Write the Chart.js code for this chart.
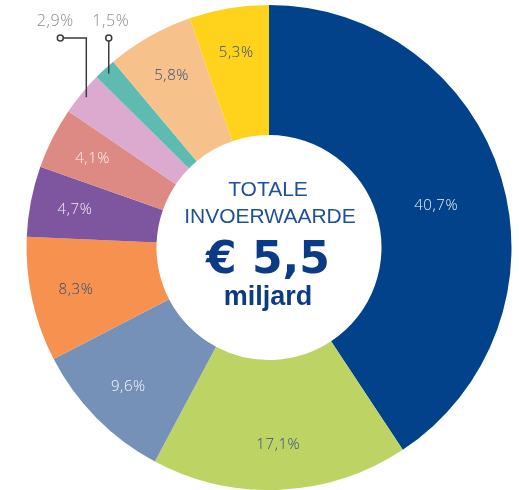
<!DOCTYPE html>
<html>
<head>
<meta charset="utf-8">
<script src="https://cdn.jsdelivr.net/npm/chart.js@4/dist/chart.umd.min.js"></script>
<style>
  html, body { margin: 0; padding: 0; background: #fff; }
  #wrap { width: 519px; height: 490px; }
</style>
</head>
<body>
<div id="wrap"><canvas id="importChart" width="519" height="490"></canvas></div>
<script>
// Import value share per category, in percent
const categories = ['A', 'B', 'C', 'D', 'E', 'F', 'G', 'H', 'I', 'J'];
const shares = [40.7, 17.1, 9.6, 8.3, 4.7, 4.1, 2.9, 1.5, 5.8, 5.3];
const sliceColors = [
    '#01428A', '#BDD464', '#7591B7', '#F7914F', '#7E569F',
    '#DE8A84', '#DDAACF', '#5DBBB1', '#F6C18B', '#FFD21C'
];
// white text on the darker slices, navy on the light ones
const labelColors = [
    '#EEF1F7', '#2F4E7E', '#F4F6FA', '#2F4E7E', '#F1EDF6',
    '#FBF1F0', '#8A8A8A', '#8A8A8A', '#2F4E7E', '#2F4E7E'
];
// slices too thin for an inside label get a callout instead
const calloutSlices = [6, 7];

const centerLines = ['TOTALE', 'INVOERWAARDE', '€ 5,5', 'miljard'];

const labelFont = '"Open Sans", "Noto Sans", sans-serif';

function fmt(v) {
    return v.toFixed(1).replace('.', ',') + '%';
}

const sliceLabels = {
    id: 'sliceLabels',
    afterDatasetsDraw(chart) {
        const ctx = chart.ctx;
        const meta = chart.getDatasetMeta(0);
        ctx.save();
        ctx.textAlign = 'center';
        ctx.textBaseline = 'middle';
        ctx.letterSpacing = '0.6px';
        meta.data.forEach((arc, i) => {
            const mid = (arc.startAngle + arc.endAngle) / 2;
            if (calloutSlices.includes(i)) {
                // leader line up to a small ring, value above it
                const r = arc.outerRadius - 6;
                const x0 = arc.x + Math.cos(mid) * r;
                const y0 = arc.y + Math.sin(mid) * r;
                const yTop = 38;
                const xEnd = i === 6 ? x0 - 26 : x0;
                ctx.strokeStyle = '#3c3c3c';
                ctx.lineWidth = 1.5;
                ctx.beginPath();
                ctx.moveTo(x0, y0);
                ctx.lineTo(x0, yTop);
                ctx.lineTo(xEnd, yTop);
                ctx.stroke();
                ctx.beginPath();
                ctx.arc(xEnd, yTop, 3, 0, Math.PI * 2);
                ctx.fillStyle = '#fff';
                ctx.fill();
                ctx.stroke();
                ctx.fillStyle = labelColors[i];
                ctx.font = '300 16px ' + labelFont;
                ctx.fillText(fmt(shares[i]), xEnd - (i === 6 ? 5 : -2), 21);
                return;
            }
            const r = arc.outerRadius * (i === 0 ? 0.71 : 0.815);
            const ang = i === 0 ? mid + 0.05 : mid;
            ctx.fillStyle = labelColors[i];
            ctx.font = '300 15px ' + labelFont;
            ctx.fillText(fmt(shares[i]), arc.x + Math.cos(ang) * r, arc.y + Math.sin(ang) * r);
        });
        ctx.restore();
    }
};

const centerText = {
    id: 'centerText',
    afterDraw(chart) {
        const ctx = chart.ctx;
        const arc = chart.getDatasetMeta(0).data[0];
        const cx = arc.x + 1;
        const cy = arc.y;
        ctx.save();
        ctx.textAlign = 'center';
        ctx.textBaseline = 'middle';
        ctx.fillStyle = '#1F5199';
        ctx.font = '21px "Liberation Sans", Arial, sans-serif';
        ctx.fillText(centerLines[0], cx - 2, cy - 57);
        ctx.fillText(centerLines[1], cx, cy - 30);
        ctx.fillStyle = '#0B3B85';
        ctx.font = 'bold 44px "DejaVu Sans", sans-serif';
        ctx.fillText(centerLines[2], cx - 2, cy + 14);
        ctx.font = 'bold 27px "Liberation Sans", Arial, sans-serif';
        ctx.fillText(centerLines[3], cx - 2, cy + 50);
        ctx.restore();
    }
};

new Chart(document.getElementById('importChart').getContext('2d'), {
    type: 'doughnut',
    data: {
        labels: categories,
        datasets: [{
            data: shares,
            backgroundColor: sliceColors,
            borderWidth: 0
        }]
    },
    options: {
        responsive: false,
        animation: false,
        cutout: '46.4%',
        layout: {
            padding: { left: 26, right: 7, top: 5, bottom: 0 }
        },
        plugins: {
            legend: { display: false },
            tooltip: { enabled: false }
        }
    },
    plugins: [sliceLabels, centerText]
});
</script>
</body>
</html>
